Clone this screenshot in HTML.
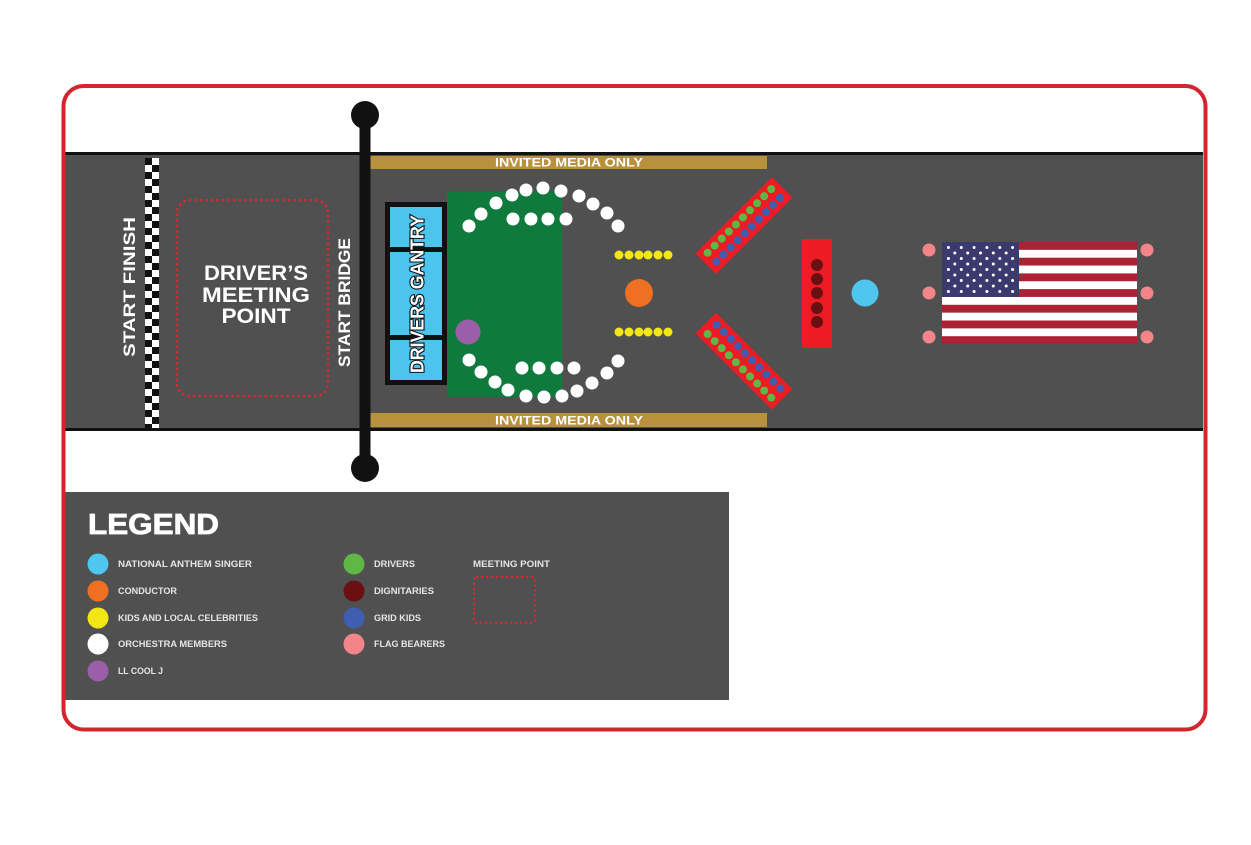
<!DOCTYPE html>
<html>
<head>
<meta charset="utf-8">
<style>
  html,body{margin:0;padding:0;background:#fff;}
  svg{display:block;}
  text{font-family:"Liberation Sans",Arial,sans-serif;font-weight:bold;}
</style>
</head>
<body>
<svg width="1251" height="845" viewBox="0 0 1251 845" xmlns="http://www.w3.org/2000/svg">
  <defs>
    <pattern id="chk" patternUnits="userSpaceOnUse" x="145" y="158" width="14" height="14">
      <rect x="0" y="0" width="14" height="14" fill="#fff"/>
      <rect x="0" y="0" width="7" height="7" fill="#111"/>
      <rect x="7" y="7" width="7" height="7" fill="#111"/>
    </pattern>
  </defs>
  <rect width="1251" height="845" fill="#fff"/>

  <!-- Track -->
  <rect x="65" y="154" width="1138" height="275" fill="#505050"/>
  <line x1="65" y1="153.5" x2="1203" y2="153.5" stroke="#111" stroke-width="3"/>
  <line x1="65" y1="429.5" x2="1203" y2="429.5" stroke="#111" stroke-width="3"/>

  <!-- Checkered -->
  <rect x="145" y="158" width="14" height="270" fill="url(#chk)"/>

  <!-- Start finish text -->
  <g transform="translate(129,287) rotate(-90)">
    <text x="0" y="6" font-size="17" fill="#fff" text-anchor="middle" textLength="140" lengthAdjust="spacingAndGlyphs">START FINISH</text>
  </g>

  <!-- Driver's meeting point -->
  <rect x="177" y="200" width="151" height="196" rx="13" fill="none" stroke="#e0262b" stroke-width="2.6" stroke-dasharray="0 5.5" stroke-linecap="round"/>
  <text x="256" y="280" font-size="21" fill="#fff" text-anchor="middle" textLength="104" lengthAdjust="spacingAndGlyphs">DRIVER’S</text>
  <text x="256" y="302" font-size="21" fill="#fff" text-anchor="middle" textLength="108" lengthAdjust="spacingAndGlyphs">MEETING</text>
  <text x="256" y="323" font-size="21" fill="#fff" text-anchor="middle" textLength="69" lengthAdjust="spacingAndGlyphs">POINT</text>

  <!-- Start bridge text -->
  <g transform="translate(344,302.5) rotate(-90)">
    <text x="0" y="6" font-size="17" fill="#fff" text-anchor="middle" textLength="129" lengthAdjust="spacingAndGlyphs">START BRIDGE</text>
  </g>

  <!-- Gold media bars -->
  <rect x="370" y="156" width="397" height="13" fill="#b8913f"/>
  <rect x="370" y="413" width="397" height="14" fill="#b8913f"/>
  <text x="569" y="166.5" font-size="12" fill="#fff" text-anchor="middle" textLength="148" lengthAdjust="spacingAndGlyphs">INVITED MEDIA ONLY</text>
  <text x="569" y="424.5" font-size="12" fill="#fff" text-anchor="middle" textLength="148" lengthAdjust="spacingAndGlyphs">INVITED MEDIA ONLY</text>

  <!-- Start bridge -->
  <rect x="359.5" y="115" width="11" height="353" fill="#111"/>
  <circle cx="365" cy="115" r="14" fill="#111"/>
  <circle cx="365" cy="468" r="14" fill="#111"/>

  <!-- Drivers gantry -->
  <rect x="385" y="202" width="62" height="183" fill="#111"/>
  <rect x="390" y="207" width="52" height="40" fill="#4cc4ee"/>
  <rect x="390" y="252" width="52" height="83" fill="#4cc4ee"/>
  <rect x="390" y="340" width="52" height="40" fill="#4cc4ee"/>
  <g transform="translate(417,294) rotate(-90)">
    <text x="0" y="6.5" font-size="18" fill="#fff" stroke="#111" stroke-width="2.2" paint-order="stroke" text-anchor="middle" textLength="158" lengthAdjust="spacingAndGlyphs">DRIVERS GANTRY</text>
  </g>

  <!-- Green stage -->
  <rect x="447" y="191" width="115" height="206" fill="#0f7a3c"/>
  <circle cx="468" cy="332" r="12.5" fill="#9a5fa8"/>

  <!-- Orchestra -->
  <g fill="#fff">
    <circle cx="469" cy="226" r="6.5"/><circle cx="481" cy="214" r="6.5"/><circle cx="496" cy="203" r="6.5"/>
    <circle cx="512" cy="195" r="6.5"/><circle cx="526" cy="190" r="6.5"/><circle cx="543" cy="188" r="6.5"/>
    <circle cx="561" cy="191" r="6.5"/><circle cx="579" cy="196" r="6.5"/><circle cx="593" cy="204" r="6.5"/>
    <circle cx="607" cy="213" r="6.5"/><circle cx="618" cy="226" r="6.5"/>
    <circle cx="513" cy="219" r="6.5"/><circle cx="531" cy="219" r="6.5"/><circle cx="548" cy="219" r="6.5"/><circle cx="566" cy="219" r="6.5"/>
    <circle cx="469" cy="360" r="6.5"/><circle cx="481" cy="372" r="6.5"/><circle cx="495" cy="382" r="6.5"/>
    <circle cx="508" cy="390" r="6.5"/><circle cx="526" cy="396" r="6.5"/><circle cx="544" cy="397" r="6.5"/>
    <circle cx="562" cy="396" r="6.5"/><circle cx="577" cy="391" r="6.5"/><circle cx="592" cy="383" r="6.5"/>
    <circle cx="607" cy="373" r="6.5"/><circle cx="618" cy="361" r="6.5"/>
    <circle cx="522" cy="368" r="6.5"/><circle cx="539" cy="368" r="6.5"/><circle cx="557" cy="368" r="6.5"/><circle cx="574" cy="368" r="6.5"/>
  </g>

  <!-- Kids -->
  <g fill="#f2e614">
    <circle cx="619" cy="255" r="4.5"/><circle cx="629" cy="255" r="4.5"/><circle cx="639" cy="255" r="4.5"/>
    <circle cx="648" cy="255" r="4.5"/><circle cx="658" cy="255" r="4.5"/><circle cx="668" cy="255" r="4.5"/>
    <circle cx="619" cy="332" r="4.5"/><circle cx="629" cy="332" r="4.5"/><circle cx="639" cy="332" r="4.5"/>
    <circle cx="648" cy="332" r="4.5"/><circle cx="658" cy="332" r="4.5"/><circle cx="668" cy="332" r="4.5"/>
  </g>
  <!-- Conductor -->
  <circle cx="639" cy="293" r="14" fill="#ef7022"/>

  <!-- Upper diagonal -->
  <g transform="translate(744,225.5) rotate(-45)">
    <rect x="-54" y="-14.5" width="108" height="29" fill="#ed1c24"/>
    <g fill="#5fb845">
      <circle cx="-45" cy="-6.5" r="4"/><circle cx="-35" cy="-6.5" r="4"/><circle cx="-25" cy="-6.5" r="4"/><circle cx="-15" cy="-6.5" r="4"/><circle cx="-5" cy="-6.5" r="4"/>
      <circle cx="5" cy="-6.5" r="4"/><circle cx="15" cy="-6.5" r="4"/><circle cx="25" cy="-6.5" r="4"/><circle cx="35" cy="-6.5" r="4"/><circle cx="45" cy="-6.5" r="4"/>
    </g>
    <g fill="#3f5eb0">
      <circle cx="-45" cy="6" r="4"/><circle cx="-35" cy="6" r="4"/><circle cx="-25" cy="6" r="4"/><circle cx="-15" cy="6" r="4"/><circle cx="-5" cy="6" r="4"/>
      <circle cx="5" cy="6" r="4"/><circle cx="15" cy="6" r="4"/><circle cx="25" cy="6" r="4"/><circle cx="35" cy="6" r="4"/><circle cx="45" cy="6" r="4"/>
    </g>
  </g>
  <!-- Lower diagonal -->
  <g transform="translate(744,361.25) rotate(45)">
    <rect x="-54" y="-14.5" width="108" height="29" fill="#ed1c24"/>
    <g fill="#3f5eb0">
      <circle cx="-45" cy="-6.5" r="4"/><circle cx="-35" cy="-6.5" r="4"/><circle cx="-25" cy="-6.5" r="4"/><circle cx="-15" cy="-6.5" r="4"/><circle cx="-5" cy="-6.5" r="4"/>
      <circle cx="5" cy="-6.5" r="4"/><circle cx="15" cy="-6.5" r="4"/><circle cx="25" cy="-6.5" r="4"/><circle cx="35" cy="-6.5" r="4"/><circle cx="45" cy="-6.5" r="4"/>
    </g>
    <g fill="#5fb845">
      <circle cx="-45" cy="6.5" r="4"/><circle cx="-35" cy="6.5" r="4"/><circle cx="-25" cy="6.5" r="4"/><circle cx="-15" cy="6.5" r="4"/><circle cx="-5" cy="6.5" r="4"/>
      <circle cx="5" cy="6.5" r="4"/><circle cx="15" cy="6.5" r="4"/><circle cx="25" cy="6.5" r="4"/><circle cx="35" cy="6.5" r="4"/><circle cx="45" cy="6.5" r="4"/>
    </g>
  </g>

  <!-- Dignitaries -->
  <rect x="802" y="239" width="30" height="109" fill="#ed1c24"/>
  <g fill="#6a1012">
    <circle cx="817" cy="265" r="6"/><circle cx="817" cy="279" r="6"/><circle cx="817" cy="293" r="6"/>
    <circle cx="817" cy="308" r="6"/><circle cx="817" cy="322" r="6"/>
  </g>
  <!-- Anthem singer -->
  <circle cx="865" cy="293" r="13.5" fill="#4ec6ee"/>

  <!-- Flag -->
  <g>
    <rect x="942" y="242" width="195" height="102" fill="#fff"/>
    <g fill="#ad2135">
      <rect x="942" y="242" width="195" height="7.85"/>
      <rect x="942" y="257.7" width="195" height="7.85"/>
      <rect x="942" y="273.4" width="195" height="7.85"/>
      <rect x="942" y="289.1" width="195" height="7.85"/>
      <rect x="942" y="304.8" width="195" height="7.85"/>
      <rect x="942" y="320.5" width="195" height="7.85"/>
      <rect x="942" y="336.2" width="195" height="7.8"/>
    </g>
    <rect x="942" y="242" width="77" height="55" fill="#3a3a6e"/>
    <g fill="#fff">
      <circle cx="948.4" cy="247.5" r="1.5"/><circle cx="961.3" cy="247.5" r="1.5"/><circle cx="974.1" cy="247.5" r="1.5"/><circle cx="986.9" cy="247.5" r="1.5"/><circle cx="999.8" cy="247.5" r="1.5"/><circle cx="1012.6" cy="247.5" r="1.5"/>
      <circle cx="954.8" cy="253" r="1.5"/><circle cx="967.7" cy="253" r="1.5"/><circle cx="980.5" cy="253" r="1.5"/><circle cx="993.3" cy="253" r="1.5"/><circle cx="1006.2" cy="253" r="1.5"/>
      <circle cx="948.4" cy="258.5" r="1.5"/><circle cx="961.3" cy="258.5" r="1.5"/><circle cx="974.1" cy="258.5" r="1.5"/><circle cx="986.9" cy="258.5" r="1.5"/><circle cx="999.8" cy="258.5" r="1.5"/><circle cx="1012.6" cy="258.5" r="1.5"/>
      <circle cx="954.8" cy="264" r="1.5"/><circle cx="967.7" cy="264" r="1.5"/><circle cx="980.5" cy="264" r="1.5"/><circle cx="993.3" cy="264" r="1.5"/><circle cx="1006.2" cy="264" r="1.5"/>
      <circle cx="948.4" cy="269.5" r="1.5"/><circle cx="961.3" cy="269.5" r="1.5"/><circle cx="974.1" cy="269.5" r="1.5"/><circle cx="986.9" cy="269.5" r="1.5"/><circle cx="999.8" cy="269.5" r="1.5"/><circle cx="1012.6" cy="269.5" r="1.5"/>
      <circle cx="954.8" cy="275" r="1.5"/><circle cx="967.7" cy="275" r="1.5"/><circle cx="980.5" cy="275" r="1.5"/><circle cx="993.3" cy="275" r="1.5"/><circle cx="1006.2" cy="275" r="1.5"/>
      <circle cx="948.4" cy="280.5" r="1.5"/><circle cx="961.3" cy="280.5" r="1.5"/><circle cx="974.1" cy="280.5" r="1.5"/><circle cx="986.9" cy="280.5" r="1.5"/><circle cx="999.8" cy="280.5" r="1.5"/><circle cx="1012.6" cy="280.5" r="1.5"/>
      <circle cx="954.8" cy="286" r="1.5"/><circle cx="967.7" cy="286" r="1.5"/><circle cx="980.5" cy="286" r="1.5"/><circle cx="993.3" cy="286" r="1.5"/><circle cx="1006.2" cy="286" r="1.5"/>
      <circle cx="948.4" cy="291.5" r="1.5"/><circle cx="961.3" cy="291.5" r="1.5"/><circle cx="974.1" cy="291.5" r="1.5"/><circle cx="986.9" cy="291.5" r="1.5"/><circle cx="999.8" cy="291.5" r="1.5"/><circle cx="1012.6" cy="291.5" r="1.5"/>
    </g>
  </g>
  <!-- Flag bearers -->
  <g fill="#f2848a">
    <circle cx="929" cy="250" r="6.5"/><circle cx="929" cy="293" r="6.5"/><circle cx="929" cy="337" r="6.5"/>
    <circle cx="1147" cy="250" r="6.5"/><circle cx="1147" cy="293" r="6.5"/><circle cx="1147" cy="337" r="6.5"/>
  </g>

  <!-- Legend -->
  <rect x="65" y="492" width="664" height="208" fill="#505050"/>
  <text x="88" y="534" font-size="29" fill="#fff" stroke="#fff" stroke-width="0.8" textLength="131" lengthAdjust="spacingAndGlyphs">LEGEND</text>

  <circle cx="98" cy="564" r="10.5" fill="#4ec6ee"/>
  <circle cx="98" cy="591" r="10.5" fill="#ef7022"/>
  <circle cx="98" cy="618" r="10.5" fill="#f2e614"/>
  <circle cx="98" cy="644" r="10.5" fill="#fff"/>
  <circle cx="98" cy="671" r="10.5" fill="#9a5fa8"/>
  <g font-size="9" fill="#e6e6e6">
    <text x="118" y="567.2" textLength="134" lengthAdjust="spacingAndGlyphs">NATIONAL ANTHEM SINGER</text>
    <text x="118" y="594.2" textLength="59" lengthAdjust="spacingAndGlyphs">CONDUCTOR</text>
    <text x="118" y="621.2" textLength="140" lengthAdjust="spacingAndGlyphs">KIDS AND LOCAL CELEBRITIES</text>
    <text x="118" y="647.2" textLength="109" lengthAdjust="spacingAndGlyphs">ORCHESTRA MEMBERS</text>
    <text x="118" y="674.2" textLength="45" lengthAdjust="spacingAndGlyphs">LL COOL J</text>
  </g>

  <circle cx="354" cy="564" r="10.5" fill="#5fb845"/>
  <circle cx="354" cy="591" r="10.5" fill="#6a1012"/>
  <circle cx="354" cy="618" r="10.5" fill="#3f5eb0"/>
  <circle cx="354" cy="644" r="10.5" fill="#f2848a"/>
  <g font-size="9" fill="#e6e6e6">
    <text x="374" y="567.2" textLength="41" lengthAdjust="spacingAndGlyphs">DRIVERS</text>
    <text x="374" y="594.2" textLength="60" lengthAdjust="spacingAndGlyphs">DIGNITARIES</text>
    <text x="374" y="621.2" textLength="47" lengthAdjust="spacingAndGlyphs">GRID KIDS</text>
    <text x="374" y="647.2" textLength="71" lengthAdjust="spacingAndGlyphs">FLAG BEARERS</text>
    <text x="473" y="567.2" textLength="77" lengthAdjust="spacingAndGlyphs">MEETING POINT</text>
  </g>
  <rect x="474" y="577" width="61" height="46" rx="3" fill="none" stroke="#e0262b" stroke-width="2.4" stroke-dasharray="0 5" stroke-linecap="round"/>

  <!-- Outer frame -->
  <rect x="63.5" y="86" width="1142" height="643.5" rx="20" ry="20" fill="none" stroke="#d2262e" stroke-width="4"/>
</svg>
</body>
</html>
